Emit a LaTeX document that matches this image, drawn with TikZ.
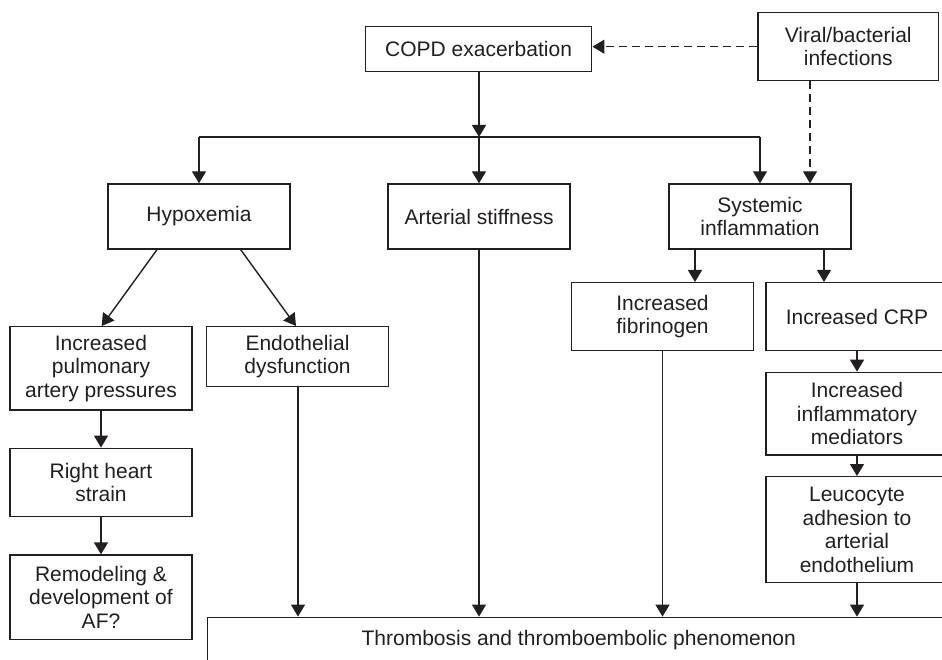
\documentclass[tikz,border=0pt]{standalone}
\usepackage{fontspec}
\setmainfont{Liberation Sans}
\usetikzlibrary{arrows.meta,calc}
\definecolor{ink}{HTML}{231F20}
\tikzset{
  box/.style={draw=ink, line width=1.4pt, rectangle, inner sep=0pt, align=center,
    text=ink, font=\fontsize{21}{23.5}\selectfont},
  arr/.style={draw=ink, line width=1.4pt, -{Triangle[length=12pt,width=14pt]}},
  dasharr/.style={arr, dash pattern=on 8pt off 5pt},
  plain/.style={draw=ink, line width=1.4pt}
}
\newcommand{\mybox}[7]{% name, x1, y1, x2, y2, text
  \node[box, minimum width={(#4-#2)*1pt}, minimum height={(#5-#3)*1pt}] (#1) at ({(#2+#4)/2},{(#3+#5)/2}) {#6#7};}
\begin{document}
\begin{tikzpicture}[x=1pt,y=-1pt]
\useasboundingbox (0,0) rectangle (942,660);
\clip (0,0) rectangle (942,660);
\fill[white] (0,0) rectangle (942,660);
\mybox{copd}{365.5}{26.7}{591.7}{71.7}{COPD exacerbation}{}
\mybox{viral}{758}{12.7}{938.5}{80.7}{Viral/bacterial\\infections}{}
\mybox{hypox}{108}{184}{290}{249}{Hypoxemia}{}
\mybox{arter}{388}{184}{570}{249}{Arterial stiffness}{}
\mybox{sys}{669}{184}{851}{249}{Systemic\\inflammation}{}
\mybox{pulm}{10}{326.7}{192}{410}{Increased\\pulmonary\\artery pressures}{}
\mybox{endo}{206.7}{326.7}{388.3}{386.7}{Endothelial\\dysfunction}{}
\mybox{fib}{571.7}{282.7}{753.3}{350.7}{Increased\\fibrinogen}{}
\mybox{crp}{766}{282.7}{948}{350.7}{Increased CRP}{}
\mybox{med}{766}{372.3}{948}{455}{Increased\\inflammatory\\mediators}{}
\mybox{leuco}{766}{476.7}{948}{582.7}{Leucocyte\\adhesion to\\arterial\\endothelium}{}
\mybox{rhs}{10}{448.3}{192}{516.7}{Right heart\\strain}{}
\mybox{remod}{10}{555}{192}{639.3}{Remodeling \&\\development of\\AF?}{}
\mybox{thromb}{207.5}{617.3}{950}{663}{Thrombosis and thromboembolic phenomenon}{}
% COPD to branch
\coordinate (j) at (479,137);
\draw[arr] (copd.south -| j) -- (j);
\draw[plain] (j -| hypox.north) -- (j -| sys.north);
\draw[arr] (j -| hypox.north) -- (hypox.north);
\draw[arr] (j -| arter.north) -- (arter.north);
\draw[arr] (j -| sys.north) -- (sys.north);
% viral dashed
\draw[dasharr] (viral.west |- 0,46.7) -- (copd.east |- 0,46.7);
\coordinate (vd) at (810,0);
\draw[dasharr] (vd |- viral.south) -- (vd |- sys.north);
% hypoxemia branches
\coordinate (h1) at (157,0);
\coordinate (h2) at (240.7,0);
\coordinate (p1) at (101.7,0);
\coordinate (e1) at (296,0);
\draw[arr] (h1 |- hypox.south) -- (p1 |- pulm.north);
\draw[arr] (h2 |- hypox.south) -- (e1 |- endo.north);
% systemic branches
\coordinate (s1) at (695,0);
\coordinate (s2) at (824,0);
\draw[arr] (s1 |- sys.south) -- (s1 |- fib.north);
\draw[arr] (s2 |- sys.south) -- (s2 |- crp.north);
% right column
\draw[arr] (crp.south) -- (med.north);
\draw[arr] (med.south) -- (leuco.north);
% left column
\draw[arr] (pulm.south) -- (rhs.north);
\draw[arr] (rhs.south) -- (remod.north);
% into thrombosis
\coordinate (t1) at (298,0);
\draw[arr] (t1 |- endo.south) -- (t1 |- thromb.north);
\draw[arr] (arter.south) -- (arter.south |- thromb.north);
\draw[arr] (fib.south) -- (fib.south |- thromb.north);
\draw[arr] (leuco.south) -- (leuco.south |- thromb.north);
\end{tikzpicture}
\end{document}
